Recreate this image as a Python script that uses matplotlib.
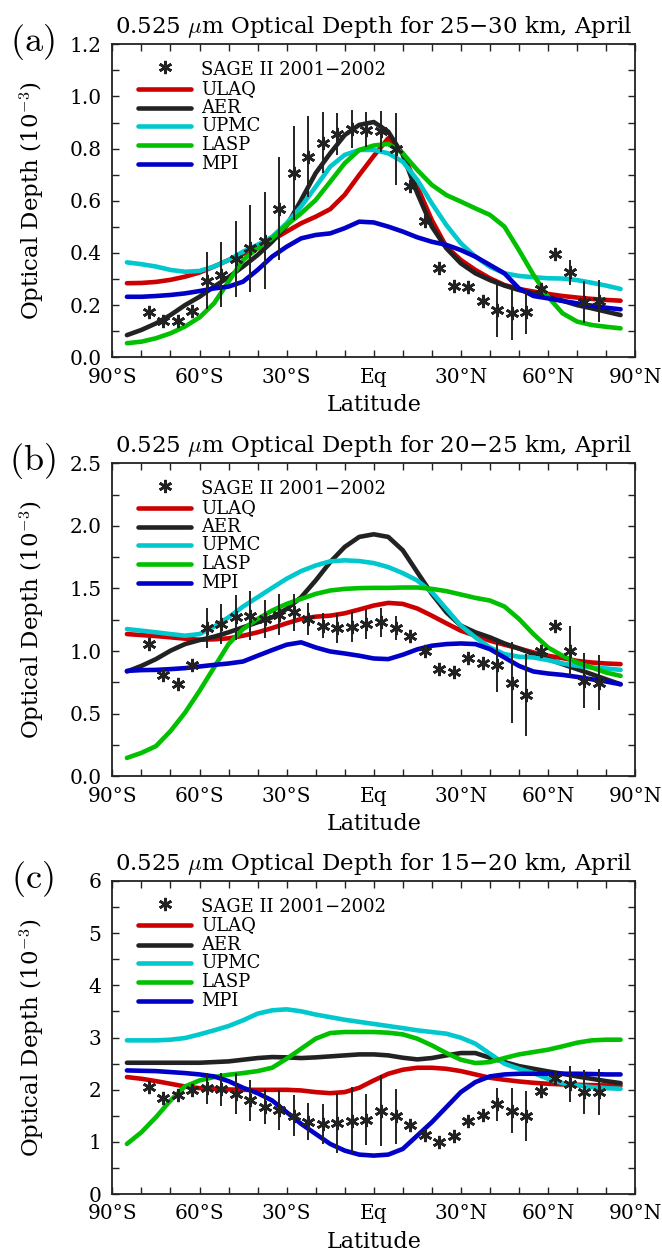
import numpy as np
import matplotlib
matplotlib.use("Agg")
import matplotlib.pyplot as plt
from matplotlib.ticker import MultipleLocator, FixedLocator

plt.rcParams['font.family'] = ['DejaVu Serif']
plt.rcParams['mathtext.fontset'] = 'cm'

# model latitudes and SAGE II bin centres
lat_model = np.arange(-85, 90, 5)
lat_sage = np.arange(-77.5, 80, 5)

# ---- panel (a) 25-30 km ----
ulaq_a = [0.284, 0.285, 0.289, 0.297, 0.309, 0.325, 0.348, 0.373, 0.396, 0.418, 0.45, 0.482,
          0.514, 0.539, 0.568, 0.623, 0.699, 0.772, 0.84, 0.782, 0.654, 0.526, 0.424, 0.373,
          0.335, 0.303, 0.277, 0.262, 0.252, 0.243, 0.235, 0.229, 0.224, 0.22, 0.217]
aer_a = [0.085, 0.105, 0.13, 0.162, 0.2, 0.232, 0.271, 0.307, 0.348, 0.392, 0.443, 0.505,
         0.603, 0.706, 0.782, 0.852, 0.891, 0.902, 0.865, 0.776, 0.629, 0.501, 0.418, 0.36,
         0.322, 0.296, 0.275, 0.258, 0.245, 0.23, 0.217, 0.2, 0.188, 0.175, 0.162]
upmc_a = [0.364, 0.357, 0.348, 0.335, 0.328, 0.331, 0.348, 0.373, 0.405, 0.431, 0.462, 0.514,
          0.578, 0.654, 0.731, 0.776, 0.795, 0.795, 0.782, 0.75, 0.68, 0.59, 0.507, 0.437,
          0.386, 0.347, 0.322, 0.312, 0.307, 0.303, 0.302, 0.296, 0.286, 0.275, 0.262]
lasp_a = [0.054, 0.06, 0.073, 0.092, 0.118, 0.153, 0.207, 0.29, 0.373, 0.418, 0.456, 0.507,
          0.552, 0.603, 0.673, 0.744, 0.795, 0.812, 0.818, 0.782, 0.718, 0.661, 0.622, 0.597,
          0.571, 0.546, 0.501, 0.411, 0.316, 0.232, 0.169, 0.137, 0.124, 0.117, 0.111]
mpi_a = [0.232, 0.232, 0.235, 0.239, 0.245, 0.254, 0.264, 0.271, 0.29, 0.335, 0.386, 0.424,
         0.456, 0.469, 0.475, 0.495, 0.52, 0.517, 0.501, 0.482, 0.46, 0.443, 0.431, 0.411,
         0.386, 0.354, 0.322, 0.264, 0.235, 0.226, 0.216, 0.207, 0.198, 0.19, 0.184]
sage_a = [0.173, 0.141, 0.139, 0.178, 0.294, 0.316, 0.376, 0.418, 0.447, 0.570, 0.705, 0.769,
          0.823, 0.857, 0.875, 0.873, 0.866, 0.799, 0.658, 0.523, 0.344, 0.273, 0.271, 0.217,
          0.181, 0.169, 0.173, 0.263, 0.396, 0.326, 0.213, 0.216]
err_a = [0, 0, 0, 0, 0.11, 0.125, 0.145, 0.167, 0.185, 0.197, 0.18, 0.155,
         0.118, 0.08, 0.073, 0.068, 0.08, 0.138, 0, 0, 0, 0, 0, 0,
         0.103, 0.102, 0.083, 0, 0, 0.047, 0.08, 0.08]

# ---- panel (b) 20-25 km ----
ulaq_b = [1.136, 1.128, 1.12, 1.11, 1.099, 1.091, 1.094, 1.102, 1.123, 1.15, 1.184, 1.222,
          1.257, 1.275, 1.283, 1.302, 1.332, 1.364, 1.385, 1.377, 1.34, 1.283, 1.222, 1.163,
          1.123, 1.083, 1.051, 1.021, 0.989, 0.963, 0.944, 0.922, 0.909, 0.901, 0.896]
aer_b = [0.837, 0.882, 0.936, 1.003, 1.056, 1.088, 1.115, 1.15, 1.19, 1.23, 1.27, 1.337,
         1.43, 1.564, 1.711, 1.832, 1.912, 1.933, 1.912, 1.805, 1.63, 1.457, 1.31, 1.203,
         1.15, 1.11, 1.061, 1.021, 0.976, 0.936, 0.896, 0.856, 0.816, 0.775, 0.735]
upmc_b = [1.176, 1.163, 1.15, 1.136, 1.123, 1.136, 1.195, 1.27, 1.356, 1.43, 1.505, 1.578,
          1.639, 1.684, 1.717, 1.725, 1.719, 1.703, 1.671, 1.623, 1.564, 1.471, 1.337, 1.203,
          1.11, 1.029, 0.976, 0.955, 0.949, 0.928, 0.901, 0.882, 0.869, 0.861, 0.85]
lasp_b = [0.147, 0.187, 0.241, 0.361, 0.508, 0.682, 0.869, 1.056, 1.176, 1.257, 1.324, 1.377,
          1.417, 1.457, 1.484, 1.497, 1.503, 1.505, 1.505, 1.508, 1.508, 1.497, 1.479, 1.452,
          1.425, 1.404, 1.356, 1.257, 1.136, 1.029, 0.963, 0.909, 0.869, 0.829, 0.802]
mpi_b = [0.842, 0.848, 0.85, 0.856, 0.864, 0.877, 0.89, 0.901, 0.917, 0.963, 1.008, 1.051,
         1.07, 1.029, 0.997, 0.981, 0.963, 0.941, 0.936, 0.971, 1.014, 1.043, 1.056, 1.061,
         1.056, 1.016, 0.949, 0.882, 0.837, 0.821, 0.81, 0.794, 0.775, 0.757, 0.735]
sage_b = [1.056, 0.81, 0.735, 0.888, 1.184, 1.217, 1.27, 1.283, 1.257, 1.291, 1.31, 1.257,
          1.203, 1.184, 1.19, 1.217, 1.23, 1.184, 1.123, 1.003, 0.861, 0.834, 0.944, 0.904,
          0.888, 0.749, 0.65, 1.003, 1.203, 1.003, 0.762, 0.749]
err_b = [0, 0, 0, 0, 0.159, 0.158, 0.178, 0.196, 0.15, 0.165, 0.147, 0.127,
         0.1, 0.118, 0.119, 0.118, 0.117, 0.096, 0, 0, 0, 0, 0, 0,
         0.214, 0.32, 0.328, 0, 0, 0.195, 0.22, 0.218]

# ---- panel (c) 15-20 km ----
ulaq_c = [2.241, 2.209, 2.164, 2.113, 2.061, 2.029, 2.017, 2.004, 1.997, 1.997, 1.997, 1.997,
          1.985, 1.953, 1.933, 1.953, 2.036, 2.177, 2.305, 2.382, 2.42, 2.42, 2.4, 2.356,
          2.292, 2.228, 2.19, 2.157, 2.132, 2.113, 2.1, 2.093, 2.087, 2.081, 2.081]
aer_c = [2.516, 2.516, 2.516, 2.516, 2.516, 2.516, 2.529, 2.542, 2.574, 2.606, 2.625, 2.619,
         2.606, 2.619, 2.638, 2.657, 2.676, 2.676, 2.657, 2.612, 2.58, 2.606, 2.657, 2.702,
         2.702, 2.612, 2.529, 2.452, 2.401, 2.35, 2.305, 2.254, 2.209, 2.164, 2.125]
upmc_c = [2.945, 2.945, 2.945, 2.958, 2.99, 3.06, 3.137, 3.22, 3.33, 3.457, 3.521, 3.54,
          3.502, 3.44, 3.39, 3.34, 3.30, 3.26, 3.22, 3.18, 3.137, 3.105, 3.073, 2.996,
          2.881, 2.689, 2.497, 2.4, 2.318, 2.209, 2.125, 2.081, 2.049, 2.029, 2.017]
lasp_c = [0.96, 1.184, 1.472, 1.793, 2.061, 2.177, 2.241, 2.286, 2.318, 2.356, 2.42, 2.593,
          2.785, 2.977, 3.086, 3.105, 3.105, 3.105, 3.092, 3.06, 2.977, 2.849, 2.702, 2.574,
          2.51, 2.529, 2.606, 2.676, 2.721, 2.766, 2.83, 2.9, 2.945, 2.958, 2.958]
mpi_c = [2.369, 2.362, 2.356, 2.337, 2.318, 2.292, 2.254, 2.164, 2.036, 1.933, 1.793, 1.569,
         1.344, 1.152, 0.96, 0.832, 0.755, 0.736, 0.755, 0.864, 1.12, 1.376, 1.665, 1.953,
         2.145, 2.254, 2.292, 2.305, 2.305, 2.305, 2.305, 2.305, 2.3, 2.292, 2.292]
sage_c = [2.049, 1.844, 1.889, 1.997, 2.029, 2.004, 1.921, 1.793, 1.677, 1.613, 1.504, 1.389,
          1.344, 1.357, 1.408, 1.428, 1.6, 1.492, 1.332, 1.14, 0.992, 1.12, 1.408, 1.517,
          1.716, 1.6, 1.492, 1.965, 2.23, 2.11, 1.953, 1.953]
err_c = [0, 0, 0, 0, 0.30, 0.32, 0.394, 0.4, 0.336, 0.378, 0.385, 0.346,
         0.378, 0.57, 0.637, 0.48, 0.672, 0.525, 0, 0, 0, 0, 0, 0,
         0.32, 0.432, 0.474, 0, 0, 0.345, 0.426, 0.436]

model_names = ["ULAQ", "AER", "UPMC", "LASP", "MPI"]
model_colors = ["#cc0000", "#222222", "#00c8cc", "#00c000", "#0000c8"]
xtick_pos = [-90, -60, -30, 0, 30, 60, 90]
xtick_labels = ["90°S", "60°S", "30°S", "Eq", "30°N", "60°N", "90°N"]

panels = [
    ("(a)", "25−30", [ulaq_a, aer_a, upmc_a, lasp_a, mpi_a], sage_a, err_a, 1.2, 0.2, 0.1, "%.1f"),
    ("(b)", "20−25", [ulaq_b, aer_b, upmc_b, lasp_b, mpi_b], sage_b, err_b, 2.5, 0.5, 0.25, "%.1f"),
    ("(c)", "15−20", [ulaq_c, aer_c, upmc_c, lasp_c, mpi_c], sage_c, err_c, 6, 1, 0.5, "%d"),
]

ast = (6, 2, 0)
W, H = 662, 1251
fig = plt.figure(figsize=(W / 100, H / 100), dpi=100)
tops = [44.3, 463.3, 881]
ax_h = 313
left, right = 112.4, 635.1

for (tag, km, models, sage, err, ymax, major, minor, fmt), top in zip(panels, tops):
    ax = fig.add_axes([left / W, 1 - (top + ax_h) / H, (right - left) / W, ax_h / H])
    for vals, c in zip(models, model_colors):
        ax.plot(lat_model, vals, color=c, lw=3.3, solid_capstyle='round',
                solid_joinstyle='round', zorder=2)
    s = np.array(sage)
    e = np.array(err)
    has = e > 0
    ax.vlines(lat_sage[has], s[has] - e[has], s[has] + e[has], color="#222222", lw=1.4, zorder=3)
    ax.plot(lat_sage, s, ls='none', marker=ast, ms=9.5, mew=1.9, color="#222222", zorder=4)

    ax.set_xlim(-90, 90)
    ax.set_ylim(0, ymax)
    ax.xaxis.set_major_locator(FixedLocator(xtick_pos))
    ax.set_xticklabels(xtick_labels)
    ax.xaxis.set_minor_locator(MultipleLocator(10))
    ax.yaxis.set_major_locator(MultipleLocator(major))
    ax.yaxis.set_minor_locator(MultipleLocator(minor))
    ax.yaxis.set_major_formatter(plt.FormatStrFormatter(fmt))
    ax.tick_params(which='both', direction='in', top=True, right=True, length=5, width=1,
                   color="#222222", labelsize=14.5)
    ax.tick_params(axis='x', pad=7.5)
    ax.tick_params(axis='y', pad=8)
    for sp in ax.spines.values():
        sp.set_linewidth(1.3)
        sp.set_color("#222222")

    ax.set_title("0.525 $\\mu$m Optical Depth for " + km + " km, April", fontsize=16.5, pad=8)
    ax.set_xlabel("Latitude", fontsize=16)
    ax.xaxis.set_label_coords(0.5, -0.118)
    ax.xaxis.label.set_va('top')
    ax.set_ylabel("Optical Depth (10$^{-3}$)", fontsize=16.5)
    ax.yaxis.set_label_coords(-0.125, 0.5)

    # legend drawn in axes fraction
    ax.plot([0.0999], [0.928], ls='none', marker=ast, ms=9.5, mew=1.9, color="#222222",
            transform=ax.transAxes)
    ax.text(0.170, 0.917, "SAGE II 2001−2002", fontsize=13, va='center', transform=ax.transAxes)
    ly = [0.858, 0.797, 0.739, 0.678, 0.617]
    for name, c, y in zip(model_names, model_colors, ly):
        ax.plot([0.049, 0.150], [y, y], color=c, lw=3.3, solid_capstyle='round',
                transform=ax.transAxes)
        ax.text(0.170, y, name, fontsize=13, va='center', transform=ax.transAxes)

    fig.text(32.5 / W, 1 - (top - 2) / H, "$\\mathrm{" + tag + "}$", fontsize=26,
             ha='center', va='center')

fig.savefig("out.png", dpi=100)
